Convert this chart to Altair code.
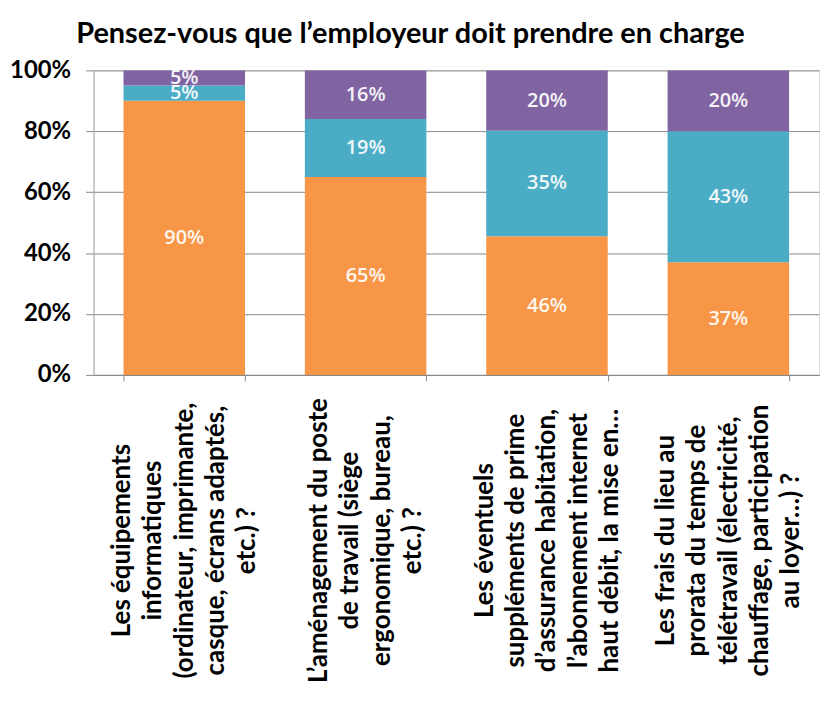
import altair as alt
import pandas as pd

categories = [
    "Les équipements\ninformatiques\n(ordinateur, imprimante,\ncasque, écrans adaptés,\netc.) ?",
    "L’aménagement du poste\nde travail (siège\nergonomique, bureau,\netc.) ?",
    "Les éventuels\nsuppléments de prime\nd’assurance habitation,\nl’abonnement internet\nhaut débit, la mise en…",
    "Les frais du lieu au\nprorata du temps de\ntélétravail (électricité,\nchauffage, participation\nau loyer…) ?",
]
series = ["Oui", "Non", "Sans opinion"]
oui = [90, 65, 46, 37]
non = [5, 19, 35, 43]
nsp = [5, 16, 20, 20]
colors = ["#F79646", "#4BACC6", "#8064A2"]

rows = []
for i, c in enumerate(categories):
    for k, (s, vals) in enumerate(zip(series, [oui, non, nsp])):
        rows.append({"cat": c, "serie": s, "rank": k, "value": vals[i]})
df = pd.DataFrame(rows)

LH = 31.5

base = alt.Chart(df).transform_stack(
    stack="value", groupby=["cat"], as_=["y0", "y1"], offset="normalize",
    sort=[alt.SortField("rank", order="ascending")],
).transform_calculate(
    mid="(datum.y0 + datum.y1) / 2",
    lab="datum.value + '%'",
)

xenc = alt.X(
    "cat:N", sort=categories, title=None,
    scale=alt.Scale(paddingInner=0.33, paddingOuter=0.165),
    axis=alt.Axis(
        labelAngle=-90, labelAlign="center", labelBaseline="middle",
        labelExpr="split(datum.label, '\\n')",
        labelFont="Lato", labelFontSize=26, labelFontWeight="bold",
        labelColor="#000000", labelLineHeight=LH, labelPadding=160,
        labelOffset={"condition": {"test": "length(split(datum.label, '\\n')) == 4",
                                   "value": -1.5 * LH},
                     "value": -2 * LH},
        tickBand="extent", ticks=True, tickSize=6, tickColor="#888888",
        domainColor="#888888", grid=False, labelLimit=0, labelOverlap=False,
    ),
)

bars = base.mark_bar().encode(
    x=xenc,
    y=alt.Y(
        "y0:Q", title=None,
        scale=alt.Scale(domain=[0, 1], nice=False),
        axis=alt.Axis(
            format=".0%", values=[0, 0.2, 0.4, 0.6, 0.8, 1.0],
            labelFont="Lato", labelFontSize=24, labelFontWeight="bold",
            labelColor="#000000", labelPadding=15, tickSize=8,
            tickColor="#888888", grid=True, gridColor="#888888",
            domainColor="#aaaaaa",
        ),
    ),
    y2="y1:Q",
    color=alt.Color("serie:N", sort=series,
                    scale=alt.Scale(domain=series, range=colors), legend=None),
)

texts = base.mark_text(
    color="white", font="Open Sans", fontSize=20, fontWeight=600,
    baseline="middle", align="center", opacity=0.92,
).encode(
    x=alt.X("cat:N", sort=categories),
    y=alt.Y("mid:Q"),
    text="lab:N",
)

chart = alt.layer(bars, texts).properties(
    width=729, height=306,
    autosize=alt.AutoSizeParams(type="none"),
    title=alt.TitleParams(
        "Pensez-vous que l’employeur doit prendre en charge",
        font="Lato", fontSize=29, fontWeight="bold", color="#000000",
        anchor="middle", frame="group", dx=-46, offset=10,
    ),
    padding={"left": 86, "top": 61, "right": 5, "bottom": 325},
).configure_view(stroke=None).configure(background="white")

chart.save("out.html", embed_options={"renderer": "svg", "actions": False})
